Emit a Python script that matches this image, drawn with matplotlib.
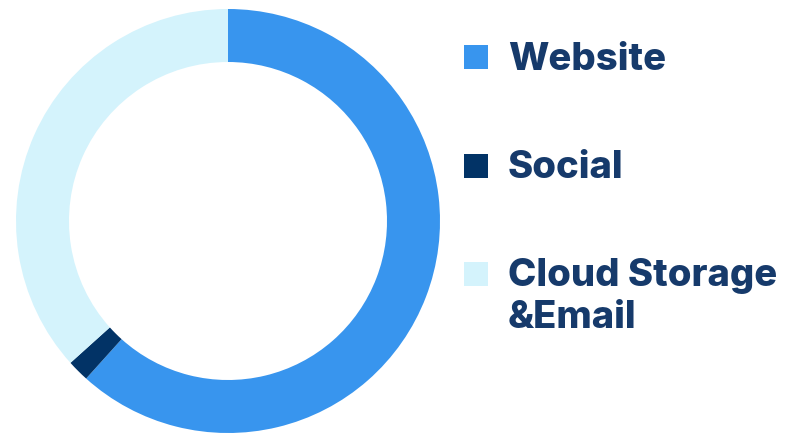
import matplotlib
matplotlib.use("Agg")
import matplotlib.pyplot as plt
from matplotlib.patches import Rectangle

labels = ["Website", "Social", "Cloud Storage\n&Email"]
values = [37, 1, 22]
colors = ["#3895EE", "#023366", "#D4F3FC"]
text_color = "#163A6B"

W, H = 786, 435
fig = plt.figure(figsize=(W / 100, H / 100), dpi=100)
fig.patch.set_facecolor("white")

cx, cy, r = 228, 222, 212
ax = fig.add_axes([(cx - r) / W, (H - cy - r) / H, 2 * r / W, 2 * r / H])
ax.pie(values, colors=colors, startangle=90, counterclock=False, radius=1,
       wedgeprops=dict(width=0.25, linewidth=0))
ax.set_xlim(-1, 1)
ax.set_ylim(-1, 1)
ax.set_aspect("equal")
ax.axis("off")

sq_x, sq = 464, 24
text_x = 508
centers = [58, 166.5, 274.5]
line_gap = 42
for lab, col, yc in zip(labels, colors, centers):
    fig.patches.append(Rectangle(((sq_x) / W, (H - yc - sq / 2) / H), sq / W, sq / H,
                                 transform=fig.transFigure, facecolor=col,
                                 edgecolor="none"))
    for i, line in enumerate(lab.split("\n")):
        fig.text(text_x / W, (H - yc - 12 - i * line_gap) / H, line, ha="left",
                 va="baseline", fontsize=27.5, fontweight="heavy",
                 family=["Inter", "DejaVu Sans"], color=text_color)

fig.savefig("out.png", dpi=100)
